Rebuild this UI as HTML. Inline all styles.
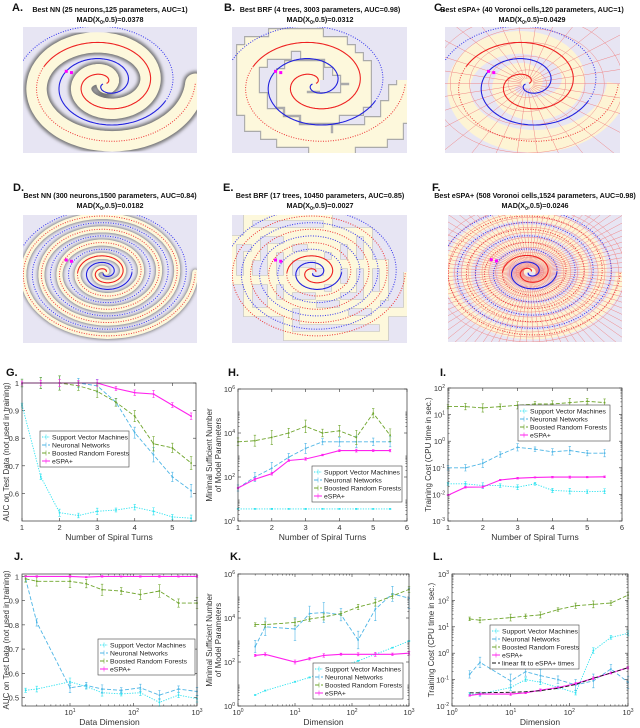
<!DOCTYPE html>
<html><head><meta charset="utf-8">
<style>
html,body{margin:0;padding:0;background:#fff;}
svg{display:block;font-family:"Liberation Sans",Arial,sans-serif;}
</style></head>
<body>
<svg id="fig" width="640" height="728" viewBox="0 0 640 728" xmlns="http://www.w3.org/2000/svg">
<defs>
<filter id="blur1" x="-10%" y="-10%" width="120%" height="120%"><feGaussianBlur stdDeviation="1.6"/></filter>
</defs>
</svg>
<script>
// ===== chart data =====
const turnsX = [1,1.5,2,2.5,3,3.5,4,4.5,5,5.5];
const dimsX = [2,3,10,18,32,64,128,256,512,1000];
const seriesNames = ["Support Vector Machines","Neuronal Networks","Boosted Random Forests","eSPA+"];
// G: AUC vs spiral turns
const gSVM = [0.92,0.66,0.53,0.52,0.535,0.54,0.55,0.535,0.515,0.51];
const gNN = [1.0,1.0,1.0,1.0,0.99,0.93,0.82,0.74,0.66,0.61];
const gBRF = [1.0,1.0,1.0,0.99,0.97,0.93,0.88,0.78,0.765,0.71];
const gESPA = [1.0,1.0,1.0,1.0,1.0,0.98,0.965,0.96,0.92,0.88];
// H: log10 parameters vs spiral turns
const hSVM = [0.55,0.55,0.55,0.55,0.55,0.55,0.55,0.55,0.55,0.55];
const hNN = [1.5,2.0,2.4,2.9,3.3,3.6,3.6,3.6,3.6,3.6];
const hBRF = [3.6,3.65,3.8,4.0,4.3,4.0,4.1,3.8,4.9,3.9];
const hESPA = [1.5,1.9,2.15,2.75,2.82,3.0,3.2,3.2,3.2,3.2];
// I: log10 training cost vs spiral turns
const iSVM = [-1.6,-1.6,-1.67,-1.67,-1.73,-1.6,-1.85,-1.88,-1.9,-1.88];
const iNN = [-1.0,-1.0,-0.83,-0.5,-0.23,-0.3,-0.4,-0.35,-0.45,-0.45];
const iBRF = [1.3,1.3,1.25,1.3,1.35,1.4,1.4,1.45,1.5,1.45];
const iESPA = [-2.03,-1.73,-1.72,-1.46,-1.39,-1.36,-1.35,-1.35,-1.35,-1.34];
// J: AUC vs dimension
const jSVM = [0.53,0.535,0.565,0.545,0.52,0.515,0.52,0.48,0.51,0.495];
const jNN = [0.99,0.81,0.54,0.55,0.535,0.53,0.54,0.51,0.535,0.525];
const jBRF = [0.99,0.98,0.98,0.97,0.945,0.94,0.925,0.94,0.89,0.89];
const jESPA = [1.0,1.0,1.0,0.997,1.0,1.0,1.0,1.0,1.0,1.0];
// K: log10 parameters vs dimension
const kSVM = [0.5,0.7,1.1,1.3,1.55,1.8,2.05,2.35,2.65,2.95];
const kNN = [2.7,3.6,3.5,4.2,4.25,4.15,3.0,4.4,5.1,4.9];
const kBRF = [3.7,3.7,3.8,3.95,4.05,4.2,4.5,4.7,5.0,5.3];
const kESPA = [2.3,2.35,2.0,2.15,2.3,2.35,2.35,2.35,2.35,2.4];
// L: log10 training cost vs dimension
const lSVM = [-1.55,-1.55,-1.3,-1.0,-1.1,-1.3,-1.5,0.1,0.6,0.75];
const lNN = [-0.8,-0.35,-1.05,-0.7,-0.85,-1.0,-1.2,-1.05,-0.6,-1.1];
const lBRF = [1.3,1.25,1.35,1.4,1.45,1.65,1.8,1.85,1.9,2.2];
const lESPA = [-1.6,-1.55,-1.55,-1.5,-1.4,-1.3,-1.15,-0.95,-0.75,-0.55];
const lFit = [-1.5,-1.5,-1.48,-1.46,-1.42,-1.33,-1.18,-0.95,-0.75,-0.55];
// tick labels
const gYTicks = [0.6,0.7,0.8,0.9,1];
const turnTicks = [1,2,3,4,5,6];
const dimTicks = [0,1,2,3];

const NS = "http://www.w3.org/2000/svg";
const svg = document.getElementById('fig');
function el(tag, attrs, parent){
  const e = document.createElementNS(NS, tag);
  for (const k in attrs) e.setAttribute(k, attrs[k]);
  (parent||svg).appendChild(e);
  return e;
}
function txt(s, x, y, size, parent, extra){
  const t = el('text', Object.assign({x:x, y:y, 'font-size':size, fill:'#222'}, extra||{}), parent);
  t.textContent = s;
  return t;
}
const COL = {svm:'#2fe3f0', nn:'#4fb6e6', brf:'#6fa52c', espa:'#ff22ee', fit:'#111'};
const DASH = {svm:'1.3,1.3', nn:'4,2', brf:'4,2', espa:'none', fit:'4,2'};

// ===== top spiral panels =====
function spiralPts(x0,y0,w,h,turns,phase,t0,t1){
  const pts=[];
  const cx=x0+w*0.47, cy=y0+h*0.45;
  const N=300;
  for(let i=0;i<=N;i++){
    const th=(t0+(t1-t0)*i/N)*2*Math.PI*turns;
    const r=th/(2*Math.PI*turns);
    pts.push([cx+r*Math.cos(th+phase)*w*0.52, cy-r*Math.sin(th+phase)*h*0.52]);
  }
  return pts;
}
function ptsStr(p){return p.map(q=>q[0].toFixed(1)+','+q[1].toFixed(1)).join(' ');}
function stepped(p){
  const out=[];let cur=[Math.round(p[0][0]/8)*8,Math.round(p[0][1]/8)*8];out.push(cur);
  for(let i=6;i<p.length;i+=6){
    const n=[Math.round(p[i][0]/8)*8,Math.round(p[i][1]/8)*8];
    out.push([n[0],cur[1]]);out.push(n);cur=n;
  }
  return out;
}
function spiralPanel(name, x0,y0,w,h,turns,kind){
  const g = el('g',{});
  const cid='clip'+name;
  const cp=el('clipPath',{id:cid},g); el('rect',{x:x0,y:y0,width:w,height:h},cp);
  const inner=el('g',{'clip-path':'url(#'+cid+')'},g);
  el('rect',{x:x0,y:y0,width:w,height:h,fill:'#e7e5f3'},inner);
  const red=spiralPts(x0,y0,w,h,turns,0,0.02,1);
  const sp=w*0.52/(2*turns);
  if(kind==='nn'){
    const f = turns>3?0.75:1.0;
    el('polyline',{points:ptsStr(red),fill:'none',stroke:'#777','stroke-width':sp*1.1*f,filter:'url(#blur1)','stroke-linecap':'round'},inner);
    el('polyline',{points:ptsStr(red),fill:'none',stroke:'#fdf8dc','stroke-width':sp*0.9*f,'stroke-linecap':'round'},inner);
  } else if(kind==='brf'){
    const st=stepped(red);
    el('polyline',{points:ptsStr(st),fill:'none',stroke:'#aaa','stroke-width':sp*1.05,'stroke-linejoin':'miter'},inner);
    el('polyline',{points:ptsStr(st),fill:'none',stroke:'#fdf8dc','stroke-width':sp*0.95,'stroke-linejoin':'miter'},inner);
  } else {
    el('polyline',{points:ptsStr(red),fill:'none',stroke:'#fdf4d4','stroke-width':sp*1.0},inner);
    const cx=x0+w*0.47, cy=y0+h*0.45;
    const nl = turns>3?90:30;
    for(let i=0;i<nl;i++){
      const a=2*Math.PI*i/nl;
      el('line',{x1:cx+Math.cos(a)*6,y1:cy+Math.sin(a)*5,x2:cx+Math.cos(a)*w,y2:cy+Math.sin(a)*h,stroke:'#f07a7a','stroke-width':0.45},inner);
    }
    const rings=turns>3?14:5;
    for(let k=1;k<=rings;k++){
      el('ellipse',{cx:cx,cy:cy,rx:w*0.55*k/rings,ry:h*0.55*k/rings,fill:'none',stroke:'#f08a8a','stroke-width':0.5},inner);
    }
  }
  const solidEnd = kind==='nn'&&turns<3 ? 0.72 : (turns>3?0.3:0.72);
  const rs=spiralPts(x0,y0,w,h,turns,0,0.02,solidEnd), rd=spiralPts(x0,y0,w,h,turns,0,solidEnd,1);
  const bs=spiralPts(x0,y0,w,h,turns,Math.PI,0.02,solidEnd), bd=spiralPts(x0,y0,w,h,turns,Math.PI,solidEnd,1);
  el('polyline',{points:ptsStr(rs),fill:'none',stroke:'#ee2222','stroke-width':1.1},inner);
  el('polyline',{points:ptsStr(bs),fill:'none',stroke:'#2222dd','stroke-width':1.1},inner);
  el('polyline',{points:ptsStr(rd),fill:'none',stroke:'#ee3333','stroke-width':1,'stroke-dasharray':'1,1.5'},inner);
  el('polyline',{points:ptsStr(bd),fill:'none',stroke:'#3333ee','stroke-width':1,'stroke-dasharray':'1,1.5'},inner);
  el('rect',{x:x0+w*0.24,y:y0+h*0.34,width:3,height:3,fill:'#ff00ff'},inner);
  el('rect',{x:x0+w*0.27,y:y0+h*0.35,width:3,height:3,fill:'#ff00ff'},inner);
  return g;
}
function panelTitle(letter, lx, ly, cx, ty, l1, l2){
  const t=txt(letter, lx, ly, 11, null, {'font-weight':'bold','fill':'#111'});
  
  
  const a=txt(l1, cx, ty, 7.2, null, {'font-weight':'bold','text-anchor':'middle','fill':'#111'});
  
  
  const b=el('text',{x:cx,y:ty+10,'font-size':7.2,'font-weight':'bold','text-anchor':'middle',fill:'#111'});
  
  
  b.innerHTML='MAD(X<tspan font-size="5" dy="2">0</tspan><tspan dy="-2">,0.5)='+l2+'</tspan>';
}
spiralPanel('panel-a-nn-2turns',23,27,174,126,2,'nn');
spiralPanel('panel-b-brf-2turns',232,27,175,126,2,'brf');
spiralPanel('panel-c-espa-2turns',445,27,175,126,2,'vor');
spiralPanel('panel-d-nn-5turns',23,215,174,128,5,'nn');
spiralPanel('panel-e-brf-5turns',232,215,175,128,5,'brf');
spiralPanel('panel-f-espa-5turns',448,215,174,127,5,'vor');
panelTitle('A.',12,11,110,12,'Best NN (25 neurons,125 parameters, AUC=1)','0.0378');
panelTitle('B.',224,11,320,12,'Best BRF (4 trees, 3003 parameters, AUC=0.98)','0.0312');
panelTitle('C.',434,11,532,12,'Best eSPA+ (40 Voronoi cells,120 parameters, AUC=1)','0.0429');
panelTitle('D.',13,191,110,198,'Best NN (300 neurons,1500 parameters, AUC=0.84)','0.0182');
panelTitle('E.',223,191,320,198,'Best BRF (17 trees, 10450 parameters, AUC=0.85)','0.0027');
panelTitle('F.',432,191,535,198,'Best eSPA+ (508 Voronoi cells,1524 parameters, AUC=0.98)','0.0246');

// ===== line charts =====
function chart(o){
  const g=el('g',{});
  const {l,t,r,b}=o.box;
  const X=v=>{const vv=o.xlog?Math.log10(v):v;return l+(vv-o.x0)/(o.x1-o.x0)*(r-l);};
  const Y=v=>b-(v-o.y0)/(o.y1-o.y0)*(b-t);
  el('rect',{x:l,y:t,width:r-l,height:b-t,fill:'#fff',stroke:'none'},g);
  const tg=el('g',{},g);
  o.xticks.forEach(v=>{
    const xv=o.xlog?Math.pow(10,v):v; const x=X(xv);
    el('line',{x1:x,y1:b,x2:x,y2:b-3,stroke:'#333','stroke-width':0.6},tg);
    el('line',{x1:x,y1:t,x2:x,y2:t+3,stroke:'#333','stroke-width':0.6},tg);
    if(o.xlog){
      const tt=el('text',{x:x,y:b+9,'font-size':7.5,'text-anchor':'middle',fill:'#333'},tg);
      tt.innerHTML='10<tspan font-size="5" dy="-3">'+v+'</tspan>';
      if(v<o.x1) for(let k=2;k<10;k++){const xm=X(Math.pow(10,v)*k); if(xm<=r&&xm>=l){el('line',{x1:xm,y1:b,x2:xm,y2:b-1.6,stroke:'#333','stroke-width':0.5},tg);el('line',{x1:xm,y1:t,x2:xm,y2:t+1.6,stroke:'#333','stroke-width':0.5},tg);}}
    } else txt(String(v),x,b+9,7.5,tg,{'text-anchor':'middle',fill:'#333'});
  });
  if(o.xlog && o.x0>0){for(let k=2;k<10;k++){const xm=X(k);if(xm>=l)el('line',{x1:xm,y1:b,x2:xm,y2:b-1.6,stroke:'#333','stroke-width':0.5},tg);}}
  o.yticks.forEach(v=>{
    const y=Y(v);
    el('line',{x1:l,y1:y,x2:l+3,y2:y,stroke:'#333','stroke-width':0.6},tg);
    el('line',{x1:r,y1:y,x2:r-3,y2:y,stroke:'#333','stroke-width':0.6},tg);
    if(o.ylog){
      const tt=el('text',{x:l-3,y:y+3,'font-size':7.5,'text-anchor':'end',fill:'#333'},tg);
      tt.innerHTML='10<tspan font-size="5" dy="-3">'+v+'</tspan>';
      if(v<o.y1) for(let k=2;k<10;k++){const ym=Y(v+Math.log10(k));el('line',{x1:l,y1:ym,x2:l+1.6,y2:ym,stroke:'#333','stroke-width':0.5},tg);el('line',{x1:r,y1:ym,x2:r-1.6,y2:ym,stroke:'#333','stroke-width':0.5},tg);}
    } else txt(String(v),l-3,y+3,7.5,tg,{'text-anchor':'end',fill:'#333'});
  });
  o.series.forEach(s=>{
    const sg=el('g',{},g);
    const pts=s.vals.map((v,i)=>[X(o.xs[i]),Y(v)]);
    el('polyline',{points:ptsStr(pts),fill:'none',stroke:COL[s.key],'stroke-width':s.key==='espa'?1.1:0.9,'stroke-dasharray':DASH[s.key]},sg);
    if(s.key!=='fit') pts.forEach((p,i)=>{
      const e=(s.err||0.02*(o.y1-o.y0))*(0.7+0.6*((i*7)%5)/4);
      const bar=el('path',{d:`M${p[0]},${p[1]-e*(b-t)/(o.y1-o.y0)}V${p[1]+e*(b-t)/(o.y1-o.y0)}M${p[0]-1.2},${p[1]-e*(b-t)/(o.y1-o.y0)}h2.4M${p[0]-1.2},${p[1]+e*(b-t)/(o.y1-o.y0)}h2.4`,stroke:COL[s.key],'stroke-width':0.6,fill:'none'},sg);
      
      
      el('rect',{x:p[0]-0.8,y:p[1]-0.8,width:1.6,height:1.6,fill:COL[s.key]},sg);
    });
  });
  el('rect',{x:l,y:t,width:r-l,height:b-t,fill:'none',stroke:'#333','stroke-width':0.7},g);
  const xl=txt(o.xlabel,(l+r)/2,b+19,8.5,g,{'text-anchor':'middle',fill:'#333'});
   
  o.ylabel.forEach((s,i)=>{
    const yx=o.ylx+i*9;
    const yl=txt(s,yx,(t+b)/2,8,g,{'text-anchor':'middle',fill:'#333',transform:`rotate(-90 ${yx} ${(t+b)/2})`});
     
  });
  const L=o.legend;
  const lg=el('g',{},g);
  el('rect',{x:L.x,y:L.y,width:L.w,height:L.items.length*8+4,fill:'#fff',stroke:'#444','stroke-width':0.6},lg);
  L.items.forEach((it,i)=>{
    const yy=L.y+6+i*8;
    const en=el('g',{},lg);
    
    
    el('line',{x1:L.x+2,y1:yy,x2:L.x+10,y2:yy,stroke:COL[it.key],'stroke-width':1,'stroke-dasharray':DASH[it.key]},en);
    if(it.key!=='fit') el('line',{x1:L.x+6,y1:yy-2.5,x2:L.x+6,y2:yy+2.5,stroke:COL[it.key],'stroke-width':0.6},en);
    txt(it.label,L.x+12,yy+2.5,6.8,en,{fill:'#222'});
  });
  return g;
}
function leg(keys){return keys.map(k=>({key:k,label:k==='fit'?'linear fit to eSPA+ times':seriesNames[['svm','nn','brf','espa'].indexOf(k)]}));}
const K4=['svm','nn','brf','espa'];
function ser(arrs,errs){return K4.map((k,i)=>({key:k,vals:arrs[i],err:errs?errs[i]:null}));}
[['G.',6,376],['H.',228,376],['I.',440,376],['J.',14,560],['K.',230,560],['L.',433,560]].forEach(a=>{
  const t=txt(a[0],a[1],a[2],11,null,{'font-weight':'bold',fill:'#111'});
  
  
});
chart({name:'chart-g-auc-vs-turns',box:{l:22,t:383,r:196,b:521},x0:1,x1:5.63,y0:0.5,y1:1.0,xs:turnsX,xticks:[1,2,3,4,5],yticks:gYTicks,
  series:ser([gSVM,gNN,gBRF,gESPA],[0.01,0.02,0.02,0.01]),xlabel:'Number of Spiral Turns',ylabel:['AUC on Test Data (not used in training)'],ylx:9,
  legend:{x:40,y:431,w:89,items:leg(K4)}});
chart({name:'chart-h-params-vs-turns',box:{l:238,t:389,r:407,b:521},x0:1,x1:6,y0:0,y1:6,xs:turnsX,xticks:turnTicks,yticks:[0,2,4,6],ylog:true,
  series:ser([hSVM,hNN,hBRF,hESPA],[0.02,0.2,0.25,0.05]),xlabel:'Number of Spiral Turns',ylabel:['Minimal Sufficient Number','of Model Parameters'],ylx:212,
  legend:{x:312,y:466,w:90,items:leg(K4)}});
chart({name:'chart-i-cost-vs-turns',box:{l:448,t:388,r:622,b:521},x0:1,x1:6,y0:-3,y1:2,xs:turnsX,xticks:turnTicks,yticks:[-3,-2,-1,0,1,2],ylog:true,
  series:ser([iSVM,iNN,iBRF,iESPA],[0.08,0.12,0.12,0.03]),xlabel:'Number of Spiral Turns',ylabel:['Training Cost (CPU time in sec.)'],ylx:431,
  legend:{x:518,y:405,w:92,items:leg(K4)}});
chart({name:'chart-j-auc-vs-dim',box:{l:22,t:574,r:197,b:706},xlog:true,x0:0.244,x1:3,y0:0.465,y1:1.01,xs:dimsX,xticks:[1,2,3],yticks:[0.5,0.6,0.7,0.8,0.9,1],
  series:ser([jSVM,jNN,jBRF,jESPA],[0.012,0.015,0.02,0.003]),xlabel:'Data Dimension',ylabel:['AUC on Test Data (not used in training)'],ylx:9,
  legend:{x:98,y:639,w:97,items:leg(K4)}});
chart({name:'chart-k-params-vs-dim',box:{l:238,t:574,r:409,b:706},xlog:true,x0:0,x1:3,y0:0,y1:6,xs:dimsX,xticks:dimTicks,yticks:[0,2,4,6],ylog:true,
  series:ser([kSVM,kNN,kBRF,kESPA],[0.02,0.4,0.12,0.07]),xlabel:'Dimension',ylabel:['Minimal Sufficient Number','of Model Parameters'],ylx:212,
  legend:{x:313,y:663,w:90,items:leg(K4)}});
chart({name:'chart-l-cost-vs-dim',box:{l:452,t:574,r:628,b:706},xlog:true,x0:0,x1:3,y0:-2,y1:3,xs:dimsX,xticks:dimTicks,yticks:[-2,-1,0,1,2,3],ylog:true,
  series:[...ser([lSVM,lNN,lBRF,lESPA],[0.08,0.2,0.1,0.04]),{key:'fit',vals:lFit}],xlabel:'Dimension',ylabel:['Training Cost (CPU time in sec.)'],ylx:434,
  legend:{x:490,y:625,w:89,items:leg(['svm','nn','brf','espa','fit'])}});
</script>
</body></html>
